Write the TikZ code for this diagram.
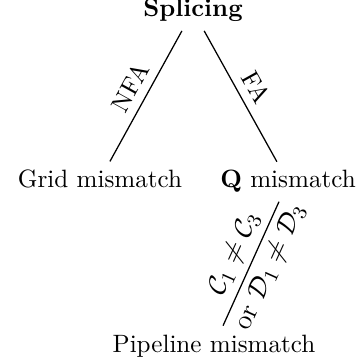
\documentclass[tikz,border=0pt]{standalone}
\usepackage{amsmath,amssymb}
\begin{document}
\begin{tikzpicture}[x=0.3985pt,y=-0.3985pt,
  tnode/.style={anchor=base,inner sep=3.33pt},
  link/.style={draw=black,line width=0.5pt},
  lbl/.style={sloped,midway},
  biglbl/.style={sloped,midway,inner sep=2.5pt,font=\fontsize{11}{13}\selectfont}]
\useasboundingbox (0,0) rectangle (361,364);
\node[tnode] (root) at (193,17) {\textbf{Splicing}};
\node[tnode] (grid) at (100,188) {Grid mismatch};
\node[tnode] (q) at (288,188) {$\mathbf{Q}$ mismatch};
\node[tnode] (pipe) at (214,352) {Pipeline mismatch};
\draw[link] (root) -- node[lbl,above] {NFA} (grid);
\draw[link] (root) -- node[lbl,above] {FA} (q);
\draw[link] (q) -- node[biglbl,above,pos=0.48] {$\mathcal{C}_1 \neq \mathcal{C}_3$} node[biglbl,below,pos=0.46] {or $\mathcal{D}_1 \neq \mathcal{D}_3$} (pipe);
\end{tikzpicture}
\end{document}
